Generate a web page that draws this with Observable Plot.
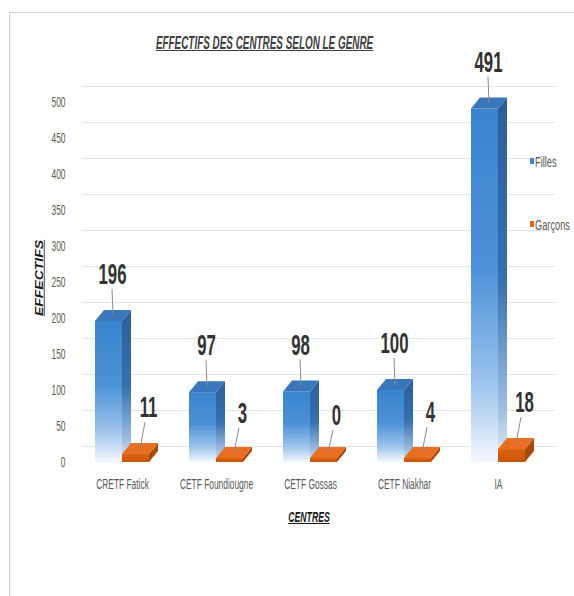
<!DOCTYPE html>
<html>
<head>
<meta charset="utf-8">
<script src="https://cdn.jsdelivr.net/npm/d3@7"></script>
<script src="https://cdn.jsdelivr.net/npm/@observablehq/plot@0.6"></script>
<style>
  html, body { margin: 0; padding: 0; background: #fff; }
  body { width: 574px; height: 596px; position: relative; overflow: hidden;
         font-family: "Liberation Sans", Arial, sans-serif; }
  #frame { position: absolute; left: 9px; top: 12px; width: 600px; height: 600px;
           border: 1px solid #d4d4d4; box-sizing: border-box; }
  #chart { position: absolute; left: 0; top: 0; }
  .title { position: absolute; left: 0; width: 530px; top: 33px; text-align: center; line-height: 20px; }
  .title span { display: inline-block; transform: scaleX(0.55); transform-origin: center;
           font-size: 18px; font-weight: bold; font-style: italic; text-decoration: underline;
           color: #404040; white-space: nowrap; }
  .ylab { position: absolute; left: 39px; top: 278px; transform: translate(-50%, -50%) scaleX(0.8) rotate(-90deg);
          font-size: 14px; font-weight: bold; font-style: italic; text-decoration: underline; color: #1a1a1a;
          white-space: nowrap; line-height: 16px; }
  .xlab { position: absolute; left: 309px; top: 517px; transform: translate(-50%, -50%) scaleX(0.6);
          font-size: 14.5px; font-weight: bold; font-style: italic; text-decoration: underline; color: #1a1a1a;
          line-height: 16px; }
  .legend { position: absolute; left: 530px; font-size: 14px; color: #595959; white-space: nowrap; line-height: 14px; }
  .legend span.sw { position: absolute; left: 0; top: 3px; width: 4px; height: 6px; }
  .legend span.tx { position: absolute; left: 5px; top: 0; display: inline-block; transform: scaleX(0.66); transform-origin: left center; }
</style>
</head>
<body>
<div id="frame"></div>
<div id="chart"></div>
<div class="title"><span>EFFECTIFS DES CENTRES SELON LE GENRE</span></div>
<div class="ylab">EFFECTIFS</div>
<div class="xlab">CENTRES</div>
<div id="legend"></div>
<script>
// ---- data ----
const centres = ["CRETF Fatick", "CETF Foundiougne", "CETF Gossas", "CETF Niakhar", "IA"];
const filles = [196, 97, 98, 100, 491];
const garcons = [11, 3, 0, 4, 18];
const seriesNames = ["Filles", "Garçons"];
const yTicks = [0, 50, 100, 150, 200, 250, 300, 350, 400, 450, 500];

// ---- style ----
const FONT = '"Liberation Sans", Arial, sans-serif';
const BAR_W = 27, DEPTH_X = 9, DEPTH_Y = -11;
const LABEL_DY = -47, LABEL_DX_F = -10, LABEL_DX_G = 26;
const TEXT_SQUEEZE = 0.56;
const seriesColors = ["#3b84cf", "#e0661a"];

const rowsF = centres.map((c, i) => ({centre: c, value: filles[i]}));
const rowsG = centres.map((c, i) => ({centre: c, value: garcons[i]}));

function bars3d(...args) {
  const scales = args.find(a => a && typeof a.x === "function" && typeof a.y === "function");
  const {x, y} = scales;
  const bw = x.bandwidth ? x.bandwidth() : 94;
  const g = d3.create("svg:g");
  const defs = g.append("defs");
  function grad(id, stops) {
    const lg = defs.append("linearGradient").attr("id", id)
      .attr("x1", 0).attr("y1", 0).attr("x2", 0).attr("y2", 1);
    stops.forEach(([o, c]) => lg.append("stop").attr("offset", o).attr("stop-color", c));
  }
  grad("bFront", [[0, "#3a83cd"], [0.45, "#4b91d8"], [0.78, "#9cc3ec"], [1, "#f4f8fd"]]);
  grad("bSide", [[0, "#2b5f99"], [0.5, "#3570b0"], [0.85, "#9dbde0"], [1, "#e6eef8"]]);
  grad("oFront", [[0, "#d9620f"], [1, "#c95509"]]);
  const y0 = y(0);
  const draw = (v, x0, front, side, top) => {
    const yt = Math.min(y(v), y0 - 4);
    const x1 = x0 + BAR_W;
    g.append("path").attr("fill", side)
      .attr("d", `M${x1},${yt}L${x1 + DEPTH_X},${yt + DEPTH_Y}L${x1 + DEPTH_X},${y0 + DEPTH_Y}L${x1},${y0}Z`);
    g.append("rect").attr("x", x0).attr("y", yt).attr("width", BAR_W).attr("height", y0 - yt).attr("fill", front);
    g.append("path").attr("fill", top)
      .attr("d", `M${x0},${yt}L${x1},${yt}L${x1 + DEPTH_X},${yt + DEPTH_Y}L${x0 + DEPTH_X},${yt + DEPTH_Y}Z`);
    return yt;
  };
  const leaders = [];
  centres.forEach((c, i) => {
    const xc = x(c) + bw / 2;
    const ytF = draw(filles[i], xc - BAR_W, "url(#bFront)", "url(#bSide)", "#3a76ba");
    leaders.push([xc + LABEL_DX_F, y(filles[i]) + LABEL_DY + 15, xc - BAR_W / 2 + DEPTH_X / 2, ytF + DEPTH_Y / 2]);
  });
  centres.forEach((c, i) => {
    const xc = x(c) + bw / 2;
    const ytG = draw(garcons[i], xc, "url(#oFront)", "#a84a0a", "#e86f22");
    leaders.push([xc + LABEL_DX_G - 3, y(garcons[i]) + LABEL_DY + 15, xc + BAR_W / 2 + DEPTH_X / 2, ytG + DEPTH_Y / 2]);
  });
  leaders.forEach(([ax, ay, bx, by]) => {
    g.append("line").attr("x1", ax).attr("y1", ay).attr("x2", bx).attr("y2", by)
      .attr("stroke", "#8c8c8c").attr("stroke-width", 1);
  });
  return g.node();
}

const plot = Plot.plot({
  width: 574,
  height: 500,
  marginTop: 102,
  marginBottom: 38,
  marginLeft: 73,
  marginRight: 28,
  style: {fontFamily: FONT, background: "transparent", overflow: "visible"},
  x: {type: "band", domain: centres, padding: 0},
  y: {domain: [0, 500]},
  marks: [
    Plot.ruleY(yTicks, {stroke: "#e4e4e4", strokeWidth: 1.2, dx: DEPTH_X, dy: -16}),
    Plot.axisY({ticks: yTicks, tickSize: 0, tickPadding: 8, label: null, fontSize: 15, color: "#595959"}),
    Plot.axisX({tickSize: 0, tickPadding: 16, label: null, fontSize: 15, color: "#595959"}),
    bars3d,
    Plot.text(rowsF, {x: "centre", y: "value", text: d => String(d.value), dx: LABEL_DX_F, dy: LABEL_DY,
      fontSize: 30, fontWeight: "bold", fill: "#333333", lineAnchor: "middle"}),
    Plot.text(rowsG, {x: "centre", y: "value", text: d => String(d.value), dx: LABEL_DX_G, dy: LABEL_DY,
      fontSize: 30, fontWeight: "bold", fill: "#333333", lineAnchor: "middle"})
  ]
});

// narrow all chart texts horizontally around their anchor (condensed look of the reference)
d3.select(plot).selectAll("text").each(function() {
  const xa = this.getAttribute("x");
  const x = xa != null && xa.trim() !== "" && !xa.trim().includes(" ") ? +xa : 0;
  const t = this.getAttribute("transform") || "";
  this.setAttribute("transform", `${t} translate(${x},0) scale(${TEXT_SQUEEZE},1) translate(${-x},0)`.trim());
});
document.getElementById("chart").appendChild(plot);

const legend = document.getElementById("legend");
seriesNames.forEach((name, i) => {
  const d = document.createElement("div");
  d.className = "legend";
  d.style.top = (i === 0 ? 155 : 218) + "px";
  d.innerHTML = `<span class="sw" style="background:${seriesColors[i]}"></span><span class="tx">${name}</span>`;
  legend.appendChild(d);
});
</script>
</body>
</html>
